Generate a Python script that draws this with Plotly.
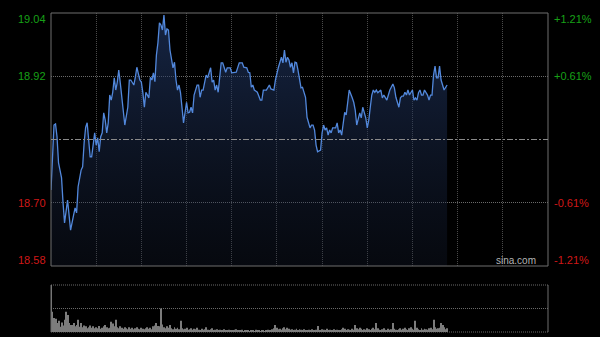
import plotly.graph_objects as go

# ---- data ----
prev_close = 18.81
price_labels = ["19.04", "18.92", "18.70", "18.58"]
pct_labels = ["+1.21%", "+0.61%", "-0.61%", "-1.21%"]
session_minutes = 330  # HK session 09:30-12:00, 13:00-16:00

minutes = [0, 2, 3, 4, 5, 7, 8, 9, 11, 12, 13, 15, 16, 17, 18, 20, 21, 22, 23, 24,
           25, 26, 27, 29, 30, 31, 32, 33, 34, 35, 36, 37, 38, 39, 40, 41, 42, 43, 44, 45,
           46, 48, 49, 51, 52, 53, 55, 56, 57, 59, 60, 61, 62, 63, 65, 66, 67, 68, 69, 70,
           71, 72, 73, 74, 75, 76, 77, 78, 79, 81, 82, 83, 84, 85, 86, 88, 89, 90, 91, 92,
           93, 94, 95, 97, 98, 99, 100, 101, 103, 104, 105, 106, 107, 108, 109, 110, 111, 113, 114, 116,
           117, 119, 120, 122, 123, 125, 127, 128, 130, 131, 132, 133, 134, 135, 137, 139, 140, 141, 143, 145,
           146, 148, 149, 151, 152, 153, 154, 155, 156, 157, 158, 159, 160, 161, 162, 163, 164, 165, 166, 167,
           169, 170, 171, 172, 173, 174, 175, 176, 177, 179, 180, 181, 182, 183, 184, 185, 186, 187, 189, 190,
           191, 192, 193, 194, 195, 196, 197, 198, 200, 201, 202, 203, 205, 206, 207, 209, 210, 211, 212, 213,
           214, 215, 216, 217, 219, 220, 221, 222, 223, 224, 225, 227, 228, 229, 231, 232, 233, 234, 235, 236,
           237, 238, 240, 241, 242, 243, 244, 245, 246, 247, 248, 250, 251, 252, 253, 254, 255, 256, 257, 258,
           259, 261, 262, 263]

prices = [18.719, 18.836, 18.838, 18.815, 18.768, 18.741, 18.696, 18.660, 18.701, 18.671, 18.647, 18.674, 18.687, 18.678, 18.725, 18.755, 18.761, 18.804, 18.832, 18.840,
          18.809, 18.779, 18.779, 18.822, 18.800, 18.813, 18.788, 18.815, 18.822, 18.858, 18.845, 18.822, 18.840, 18.890, 18.881, 18.895, 18.921, 18.899, 18.913, 18.935,
          18.912, 18.863, 18.836, 18.868, 18.917, 18.917, 18.908, 18.922, 18.940, 18.917, 18.913, 18.894, 18.868, 18.895, 18.885, 18.922, 18.917, 18.930, 18.914, 18.962,
          18.984, 19.020, 19.016, 19.007, 19.034, 18.998, 19.009, 19.007, 18.971, 18.939, 18.949, 18.917, 18.899, 18.908, 18.894, 18.840, 18.863, 18.877, 18.858, 18.859,
          18.868, 18.858, 18.890, 18.908, 18.908, 18.886, 18.899, 18.899, 18.926, 18.921, 18.930, 18.939, 18.913, 18.917, 18.899, 18.908, 18.895, 18.948, 18.948, 18.931,
          18.939, 18.939, 18.930, 18.930, 18.931, 18.948, 18.948, 18.940, 18.939, 18.931, 18.930, 18.904, 18.908, 18.899, 18.895, 18.881, 18.881, 18.899, 18.899, 18.908,
          18.901, 18.899, 18.917, 18.940, 18.948, 18.958, 18.948, 18.971, 18.949, 18.958, 18.953, 18.940, 18.948, 18.930, 18.949, 18.948, 18.935, 18.921, 18.903, 18.904,
          18.886, 18.850, 18.840, 18.831, 18.836, 18.836, 18.827, 18.800, 18.788, 18.791, 18.822, 18.836, 18.827, 18.831, 18.818, 18.827, 18.822, 18.831, 18.831, 18.840,
          18.822, 18.827, 18.818, 18.845, 18.859, 18.854, 18.876, 18.899, 18.885, 18.877, 18.863, 18.836, 18.858, 18.849, 18.868, 18.849, 18.831, 18.845, 18.868, 18.890,
          18.899, 18.895, 18.899, 18.894, 18.899, 18.885, 18.890, 18.886, 18.881, 18.890, 18.899, 18.910, 18.903, 18.886, 18.868, 18.885, 18.888, 18.888, 18.895, 18.890,
          18.899, 18.890, 18.899, 18.881, 18.885, 18.881, 18.894, 18.899, 18.890, 18.890, 18.899, 18.890, 18.881, 18.890, 18.890, 18.926, 18.942, 18.921, 18.921, 18.942,
          18.917, 18.899, 18.904, 18.908]

volumes = [100, 43, 30, 28, 19, 24, 11, 20, 14, 26,
           43, 36, 19, 15, 15, 19, 12, 15, 26, 11,
           19, 10, 14, 12, 8, 10, 14, 9, 12, 8,
           10, 8, 13, 7, 9, 12, 15, 10, 8, 9,
           22, 18, 12, 26, 10, 8, 12, 9, 7, 10,
           8, 6, 10, 7, 9, 6, 8, 10, 7, 6,
           9, 7, 6, 8, 10, 7, 9, 6, 12, 14,
           19, 13, 12, 50, 16, 10, 8, 12, 9, 15,
           8, 6, 10, 7, 9, 6, 24, 8, 6, 7,
           9, 5, 6, 8, 5, 7, 6, 9, 5, 4,
           7, 5, 6, 10, 5, 4, 6, 8, 4, 5,
           6, 4, 5, 3, 4, 6, 3, 4, 5, 3,
           4, 3, 5, 6, 3, 4, 3, 5, 2, 3,
           4, 3, 2, 4, 3, 2, 5, 3, 4, 2,
           3, 4, 2, 3, 5, 3, 4, 6, 8, 15,
           9, 6, 7, 5, 8, 10, 6, 9, 7, 5,
           6, 4, 5, 7, 3, 6, 5, 4, 6, 3,
           4, 5, 3, 6, 4, 3, 5, 13, 4, 3,
           6, 5, 4, 7, 3, 5, 4, 3, 6, 4,
           5, 3, 4, 6, 9, 7, 4, 6, 5, 4,
           7, 5, 15, 8, 6, 9, 7, 4, 6, 5,
           8, 6, 4, 7, 9, 6, 19, 8, 5, 4,
           6, 8, 5, 4, 7, 5, 6, 19, 7, 5,
           4, 6, 8, 5, 7, 9, 6, 4, 8, 10,
           7, 5, 24, 9, 6, 4, 8, 5, 7, 6,
           5, 8, 9, 6, 26, 10, 7, 8, 9, 19,
           15, 10, 6, 8]

# ---- derived scale ----
span = 0.0121
y_hi = prev_close * (1 + span)
y_lo = prev_close * (1 - span)
quarter = (y_hi - y_lo) / 4
levels = [y_hi, y_hi - quarter, y_lo + quarter, y_lo]

W, H = 600, 337
xdom = [51 / W, 548 / W]
ydom_main = [1 - 266 / H, 1 - 13 / H]
ydom_vol = [1 - 332 / H, 1 - 285 / H]

GREEN = "#17a017"
RED = "#d01818"
FONT = "Liberation Sans, Arial, sans-serif"
DOTS = "1px,1px"

fig = go.Figure()

fig.add_trace(go.Scatter(
    x=minutes, y=prices, mode="lines",
    line=dict(color="#5288dc", width=1.3),
    fill="tozeroy",
    fillgradient=dict(type="vertical",
                      colorscale=[[0, "rgba(25,35,60,0.25)"], [1, "rgba(35,60,110,0.62)"]],
                      start=y_lo, stop=y_hi),
    hoverinfo="skip", showlegend=False,
    xaxis="x", yaxis="y",
))

fig.add_trace(go.Bar(
    x=list(range(len(volumes))), y=volumes,
    marker=dict(color="#7c7c7c", line=dict(width=0)),
    hoverinfo="skip", showlegend=False,
    xaxis="x2", yaxis="y2",
))

fig.update_layout(
    width=W, height=H,
    margin=dict(l=0, r=0, t=0, b=0),
    paper_bgcolor="#000000", plot_bgcolor="#000000",
    bargap=0.35,
    xaxis=dict(domain=xdom, range=[0, session_minutes], showticklabels=False,
               tickvals=list(range(30, session_minutes, 30)), ticks="",
               showgrid=True, gridcolor="#4a4a4a", griddash=DOTS, gridwidth=1,
               zeroline=False, showline=False, fixedrange=True),
    yaxis=dict(domain=ydom_main, range=[y_lo, y_hi], showticklabels=False,
               tickvals=[levels[1], levels[2]], ticks="",
               showgrid=True, gridcolor="#6a6a6a", griddash=DOTS, gridwidth=1,
               zeroline=False, showline=False, fixedrange=True),
    xaxis2=dict(domain=xdom, range=[0, session_minutes], showticklabels=False,
                showgrid=False, zeroline=False, showline=False, anchor="y2", fixedrange=True),
    yaxis2=dict(domain=ydom_vol, range=[0, 100], showticklabels=False,
                showgrid=False, zeroline=False, showline=False, anchor="x2", fixedrange=True),
)

shapes = [
    # main frame
    dict(type="rect", xref="paper", yref="paper",
         x0=xdom[0], x1=xdom[1], y0=ydom_main[0], y1=ydom_main[1],
         line=dict(color="#6e6e6e", width=1), layer="above"),
    # previous close line
    dict(type="line", xref="x domain", yref="y", x0=0, x1=1, y0=prev_close, y1=prev_close,
         line=dict(color="#8a8a8a", width=1, dash="6px,2px,2px,2px"), layer="above"),
]
# volume panel: dotted top / middle / bottom, solid sides
for frac in (0.0, 0.5, 1.0):
    yy = ydom_vol[0] + frac * (ydom_vol[1] - ydom_vol[0])
    shapes.append(dict(type="line", xref="paper", yref="paper", x0=xdom[0], x1=xdom[1],
                       y0=yy, y1=yy, line=dict(color="#6a6a6a", width=1, dash=DOTS),
                       layer="below"))
for xx in xdom:
    shapes.append(dict(type="line", xref="paper", yref="paper", x0=xx, x1=xx,
                       y0=ydom_vol[0], y1=ydom_vol[1], line=dict(color="#6e6e6e", width=1)))
fig.update_layout(shapes=shapes)

annotations = []
shifts = [-6, 0, 0, 6]
for i, lvl in enumerate(levels):
    col = GREEN if i < 2 else RED
    annotations.append(dict(xref="paper", yref="y", x=48 / W, y=lvl, yshift=shifts[i],
                            text=price_labels[i], showarrow=False, xanchor="right",
                            yanchor="middle", font=dict(family=FONT, size=11, color=col)))
    annotations.append(dict(xref="paper", yref="y", x=552 / W, y=lvl, yshift=shifts[i],
                            text=pct_labels[i], showarrow=False, xanchor="left",
                            yanchor="middle", font=dict(family=FONT, size=11, color=col)))
annotations.append(dict(xref="paper", yref="y", x=538 / W, y=y_lo, yshift=6,
                        text="sina.com", showarrow=False, xanchor="right", yanchor="middle",
                        font=dict(family=FONT, size=10, color="#b4b4b4")))
fig.update_layout(annotations=annotations)

fig.write_html("out.html")
